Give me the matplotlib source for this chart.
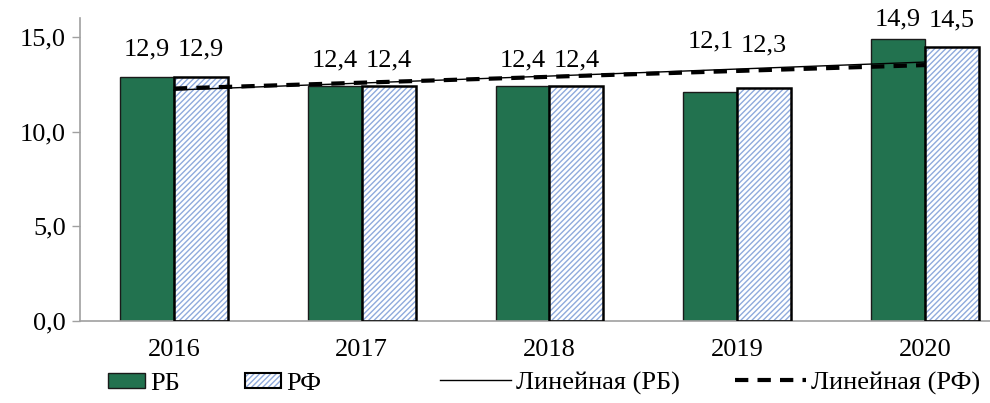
import numpy as np
import matplotlib.pyplot as plt
from matplotlib.lines import Line2D
from matplotlib.patches import Patch, Rectangle
from matplotlib.legend_handler import HandlerTuple, HandlerPatch
from matplotlib.ticker import FuncFormatter

plt.rcParams['font.family'] = ['Liberation Serif', 'DejaVu Serif']

years = ['2016', '2017', '2018', '2019', '2020']
rb = [12.9, 12.4, 12.4, 12.1, 14.9]
rf = [12.9, 12.4, 12.4, 12.3, 14.5]

# label lift above each bar, in pixels
rb_lift = [27, 26, 26, 51, 20]
rf_lift = [27, 26, 26, 43, 26]

green = '#22724F'
hatch_blue = '#8FAADC'

fig = plt.figure(figsize=(9.9, 4.03), dpi=100)
ax = fig.add_axes([0.0808, 0.2035, 0.92, 0.7515])

x = np.arange(len(years))
w = 0.287

ax.bar(x - w / 2, rb, w, color=green, edgecolor='#1a1a1a', linewidth=1, zorder=2)
# hatched fill first, then black outline on top
ax.bar(x + w / 2, rf, w, color='white', edgecolor=hatch_blue, hatch='//////',
       linewidth=0, zorder=2)
ax.bar(x + w / 2, rf, w, fill=False, edgecolor='black', linewidth=1.8, zorder=3)

# linear trend lines
k1, b1 = np.polyfit(x, rb, 1)
k2, b2 = np.polyfit(x, rf, 1)
ax.plot(x, k1 * x + b1, color='black', linewidth=1, zorder=4)
ax.plot(x, k2 * x + b2, color='black', linewidth=3, dashes=(3.2, 2.2), zorder=4)

fmt = lambda v: f'{v:.1f}'.replace('.', ',')
for i in range(len(years)):
    ax.annotate(fmt(rb[i]), (x[i] - w / 2, rb[i]), xytext=(0, rb_lift[i] * 0.72),
                textcoords='offset points', ha='center', va='center', fontsize=19)
    ax.annotate(fmt(rf[i]), (x[i] + w / 2, rf[i]), xytext=(0, rf_lift[i] * 0.72),
                textcoords='offset points', ha='center', va='center', fontsize=19)

ax.set_ylim(0, 16)
ax.set_xlim(-0.5, 4.35)
ax.set_yticks([0, 5, 10, 15])
ax.yaxis.set_major_formatter(FuncFormatter(lambda v, p: fmt(v)))
ax.set_xticks(x)
ax.set_xticklabels(years)
ax.tick_params(axis='y', labelsize=19, color='#a0a0a0', length=6, width=1, pad=4)
ax.tick_params(axis='x', labelsize=19, length=0, pad=13)
for s in ['top', 'right']:
    ax.spines[s].set_visible(False)
for s in ['left', 'bottom']:
    ax.spines[s].set_color('#a0a0a0')
    ax.spines[s].set_linewidth(1.2)


# short legend boxes sitting at the right end of the handle area
def short_box(legend, orig_handle, xdescent, ydescent, width, height, fontsize):
    return Rectangle((width * 0.49 - xdescent, -ydescent + height * 0.1),
                     width * 0.51, height * 0.8)


handles = [
    Patch(facecolor=green, edgecolor='#1a1a1a', linewidth=1),
    (Patch(facecolor='white', edgecolor=hatch_blue, hatch='//////', linewidth=0),
     Patch(fill=False, edgecolor='black', linewidth=1.5)),
    Line2D([], [], color='black', linewidth=1),
    Line2D([], [], color='black', linewidth=3, dashes=(3.2, 2.2)),
]
labels = ['РБ', 'РФ', 'Линейная (РБ)', 'Линейная (РФ)']
legend_x = [0.074, 0.212, 0.444, 0.742]
hmap = {Patch: HandlerPatch(patch_func=short_box),
        tuple: HandlerTuple(ndivide=1, pad=0)}
for h, lab, lx in zip(handles, labels, legend_x):
    fig.legend([h], [lab], loc='center left', bbox_to_anchor=(lx, 0.05),
               frameon=False, fontsize=19, handlelength=2.7, handletextpad=0.2,
               borderpad=0, borderaxespad=0, handler_map=hmap)

fig.savefig('out.png', dpi=100)
